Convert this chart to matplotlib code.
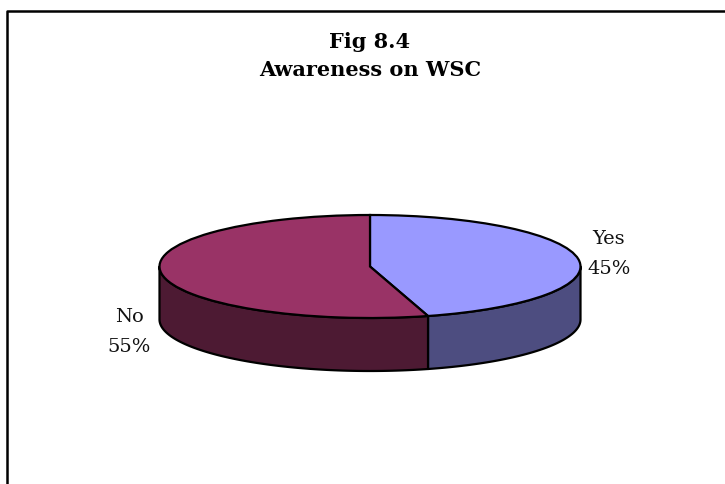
import numpy as np
from matplotlib import pyplot as plt
from matplotlib.lines import Line2D

labels = ['Yes', 'No']
values = [45, 55]
colors = ['#9999FF', '#993366']
side_colors = ['#4D4D80', '#4D1A33']
title = 'Fig 8.4\nAwareness on WSC'

W, H = 725, 485
# top ellipse in pixels
cx, cy = 370, 267.5
rx, ry = 210.5, 51.5
depth = 53
# the 3-D view of the original pushes the front boundary round a little
front_skew = 2

fig = plt.figure(figsize=(W / 100, H / 100), dpi=100)
ax = fig.add_axes([0, 0, 1, 1])
wedges, _ = ax.pie(values, colors=colors, startangle=90, counterclock=False,
                   wedgeprops={'edgecolor': 'black', 'linewidth': 1.6})
wedges[0].set_theta1(wedges[0].theta1 - front_skew)
wedges[1].set_theta2(wedges[1].theta2 - front_skew)
ax.set_aspect('auto')
# one data unit is rx pixels across and ry pixels down
ax.set_xlim(-cx / rx, (W - cx) / rx)
ax.set_ylim((cy - H) / ry, cy / ry)
ax.set_axis_off()

# side walls: only the front half of the pie shows
d = depth / ry
for w, col in zip(wedges, side_colors):
    t1 = max(w.theta1, -180)
    t2 = min(w.theta2, 0)
    t = np.radians(np.linspace(t1, t2, 120))
    x = np.cos(t)
    y = np.sin(t)
    ax.fill(np.r_[x, x[::-1]], np.r_[y, y[::-1] - d], facecolor=col,
            edgecolor='black', linewidth=1.6, zorder=0.5, joinstyle='round')

# chart frame: only top and left edges are inside the picture
fig.add_artist(Line2D([7 / W, 7 / W, 1], [0, 1 - 12 / H, 1 - 12 / H], color='black',
                      linewidth=1.8))

fig.text(370 / W, 1 - 56 / H, title, ha='center', va='center', family='DejaVu Serif',
         weight='bold', fontsize=15, linespacing=1.45)

label_pos = [(609, 254), (129, 332)]
for name, val, (px, py) in zip(labels, values, label_pos):
    fig.text(px / W, 1 - py / H, '%s\n%d%%' % (name, val), ha='center', va='center',
             family='DejaVu Serif', fontsize=14, linespacing=1.8, color='#111111')

fig.savefig('out.png', dpi=100)
